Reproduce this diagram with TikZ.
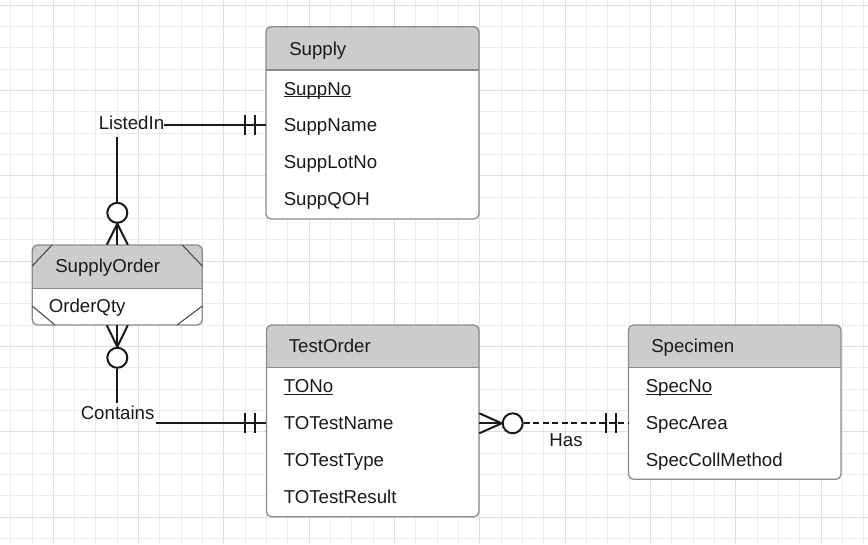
\documentclass[tikz,border=0pt]{standalone}
\usepackage{fontspec}
\setmainfont{Liberation Sans}
\usetikzlibrary{calc,fit}
\definecolor{gridminor}{HTML}{EBEBEB}
\definecolor{gridmajor}{HTML}{DEDEDE}
\definecolor{hdrfill}{HTML}{CCCCCC}
\definecolor{boxline}{HTML}{8A8A8A}
\definecolor{ink}{HTML}{1A1A1A}
\tikzset{
  lbl/.style={inner sep=0pt, anchor=base west, text=ink, font=\fontsize{14pt}{16pt}\selectfont},
  conn/.style={line width=1.5pt, draw=ink},
  crowcircle/.style={circle, draw=ink, fill=white, line width=1.5pt, minimum size=15pt, inner sep=0pt},
  boxborder/.style={draw=boxline, line width=0.95pt},
  keyline/.style={draw=ink, line width=0.9pt},
}
\newcommand{\erbox}[6]{%
  \node[fit={(#2,#3) (#4,#5)}, inner sep=0pt, fill=white, rounded corners=3.75pt] (#1) {};
  \begin{scope}
    \clip (#2,#3) rectangle (#4,#6);
    \fill[hdrfill, rounded corners=3.75pt] (#2,#3) rectangle (#4,#5);
  \end{scope}
  \draw[boxborder] (#2,#6) -- (#4,#6);
  \draw[boxborder, rounded corners=3.75pt] (#2,#3) rectangle (#4,#5);
}
\newcommand{\keyunder}[1]{\draw[keyline] ([yshift=-1.1pt]#1.base west) -- ([yshift=-1.1pt]#1.base east);}
\begin{document}
\begin{tikzpicture}[x=0.75pt, y=-0.75pt]
\useasboundingbox (0,0) rectangle (868,544);
\fill[white] (0,0) rectangle (868,544);
% grid (snapped to pixel centres)
\foreach \k in {0,...,40} {
  \pgfmathsetmacro\xx{floor(10.667+21.333*\k)+0.5}
  \draw[gridminor, line width=0.75pt] (\xx,0) -- (\xx,544);
}
\foreach \k in {0,...,25} {
  \pgfmathsetmacro\yy{floor(5.333+21.333*\k)+0.5}
  \draw[gridminor, line width=0.75pt] (0,\yy) -- (868,\yy);
}
\foreach \k in {0,...,9} {
  \pgfmathsetmacro\xx{floor(53.333+85.333*\k)+0.5}
  \draw[gridmajor, line width=0.75pt] (\xx,0) -- (\xx,544);
}
\foreach \k in {0,...,6} {
  \pgfmathsetmacro\yy{floor(5.333+85.333*\k)+0.5}
  \draw[gridmajor, line width=0.75pt] (0,\yy) -- (868,\yy);
}

% entity boxes
\erbox{supply}{266}{26.7}{479}{219}{70}
\erbox{to}{266.5}{325}{479}{516.7}{367.7}
\erbox{spec}{628.5}{325}{841}{479.3}{367.7}
\erbox{so}{32.3}{245}{202.3}{325}{288.3}
% associative entity corner marks
\draw[boxborder, draw=ink!80, line width=0.8pt] (32.3,266) -- (52,245);
\draw[boxborder, draw=ink!80, line width=0.8pt] (182.3,245) -- (202.3,266);
\draw[boxborder, draw=ink!80, line width=0.8pt] (32.3,306) -- (55,325);
\draw[boxborder, draw=ink!80, line width=0.8pt] (177,325) -- (202.3,306);

% texts: Supply
\node[lbl] (supplyT) at (289,55) {Supply};
\node[lbl] (suppno) at (283.5,95) {SuppNo};
\keyunder{suppno}
\node[lbl] (suppname) at (283.5,131.7) {SuppName};
\node[lbl] (supplot) at (283.5,168.3) {SuppLotNo};
\node[lbl] (suppqoh) at (283.5,205) {SuppQOH};
% TestOrder
\node[lbl] (toT) at (288.5,352.7) {TestOrder};
\node[lbl] (tono) at (283.5,392.7) {TONo};
\keyunder{tono}
\node[lbl] (toname) at (283.5,429.3) {TOTestName};
\node[lbl] (totype) at (283.5,466) {TOTestType};
\node[lbl] (toresult) at (283.5,503) {TOTestResult};
% Specimen
\node[lbl] (specT) at (651,352.7) {Specimen};
\node[lbl] (specno) at (645.5,392.7) {SpecNo};
\keyunder{specno}
\node[lbl] (specarea) at (645.5,429.3) {SpecArea};
\node[lbl] (specmeth) at (645.5,466) {SpecCollMethod};
% SupplyOrder
\node[lbl] (soT) at (55,272.5) {SupplyOrder};
\node[lbl] (soqty) at (48.5,312.5) {OrderQty};

% relationship labels
\node[lbl] (listedin) at (98.5,129.3) {ListedIn};
\node[lbl] (contains) at (80.5,419.3) {Contains};
\node[lbl, anchor=base] (has) at (566,446) {Has};

% ListedIn connector
\coordinate (liend) at (163.5,125);
\draw[conn] (liend) -- (liend -| supply.west);
\draw[conn] ($(liend -| supply.west)+(-21,-10)$) -- ++(0,20);
\draw[conn] ($(liend -| supply.west)+(-11,-10)$) -- ++(0,20);
\coordinate (lidown) at (117.3,137);
\node[crowcircle] (c1) at (117.3,212.8) {};
\draw[conn] (lidown) -- (c1.north);
\draw[conn] (c1.south) -- (c1.south |- so.north);
\draw[conn] ($(c1.south |- so.north)+(-10.5,0)$) -- (c1.south) -- ($(c1.south |- so.north)+(10.5,0)$);

% Contains connector
\node[crowcircle] (c2) at (117.3,357.8) {};
\draw[conn] (c2.north) -- (c2.north |- so.south);
\draw[conn] ($(c2.north |- so.south)+(-10.5,0)$) -- (c2.north) -- ($(c2.north |- so.south)+(10.5,0)$);
\coordinate (ctup) at (117.3,403);
\draw[conn] (c2.south) -- (ctup);
\coordinate (ctend) at (155.5,422.7);
\draw[conn] (ctend) -- (ctend -| to.west);
\draw[conn] ($(ctend -| to.west)+(-21.5,-10)$) -- ++(0,20);
\draw[conn] ($(ctend -| to.west)+(-11.5,-10)$) -- ++(0,20);

% Has connector
\node[crowcircle] (c3) at (512.7,423.3) {};
\draw[conn] (c3 -| to.east) -- (c3.west);
\draw[conn] ($(c3 -| to.east)+(0,-10)$) -- (c3.west) -- ($(c3 -| to.east)+(0,10)$);
\draw[conn, dash pattern=on 4.5pt off 2.6pt] (c3.east) -- (c3 -| spec.west);
\draw[conn] ($(c3 -| spec.west)+(-21.8,-10)$) -- ++(0,20);
\draw[conn] ($(c3 -| spec.west)+(-11.8,-10)$) -- ++(0,20);
\end{tikzpicture}
\end{document}
